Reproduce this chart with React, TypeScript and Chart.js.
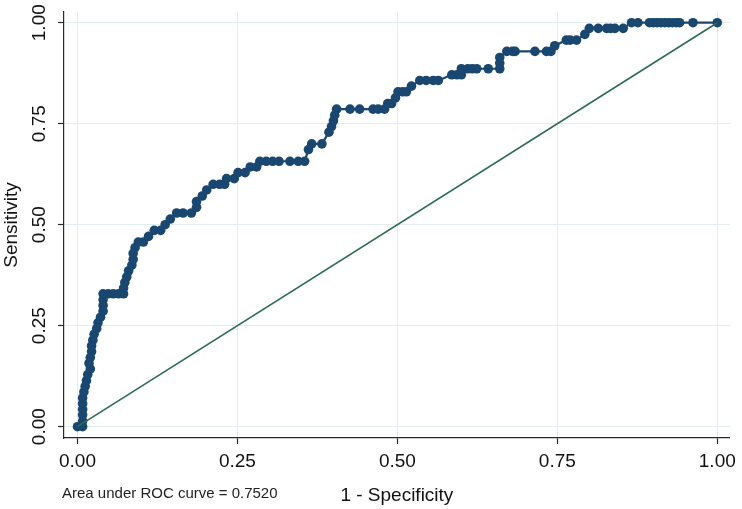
import React, { useEffect, useRef } from "react";
import { Chart, registerables } from "chart.js";

Chart.register(...registerables);

// ROC curve points (1 - specificity, sensitivity)
const fprValues = [
  0.000, 0.008, 0.008, 0.008, 0.008, 0.008, 0.008, 0.010, 0.012, 0.014,
  0.016, 0.020, 0.018, 0.020, 0.022, 0.022, 0.024, 0.026, 0.030, 0.032,
  0.036, 0.040, 0.040, 0.040, 0.040, 0.048, 0.056, 0.064, 0.072, 0.072,
  0.074, 0.077, 0.080, 0.085, 0.087, 0.087, 0.090, 0.095, 0.103, 0.111,
  0.120, 0.130, 0.137, 0.145, 0.155, 0.165, 0.178, 0.186, 0.186, 0.195,
  0.202, 0.212, 0.222, 0.230, 0.233, 0.245, 0.251, 0.262, 0.270, 0.280,
  0.285, 0.295, 0.305, 0.315, 0.332, 0.345, 0.355, 0.361, 0.366, 0.382,
  0.393, 0.397, 0.400, 0.402, 0.405, 0.426, 0.441, 0.462, 0.470, 0.480,
  0.485, 0.491, 0.497, 0.501, 0.508, 0.514, 0.522, 0.535, 0.545, 0.556,
  0.564, 0.585, 0.593, 0.600, 0.600, 0.610, 0.617, 0.624, 0.642, 0.660,
  0.660, 0.660, 0.671, 0.680, 0.684, 0.715, 0.733, 0.740, 0.746, 0.764,
  0.770, 0.780, 0.793, 0.800, 0.814, 0.827, 0.833, 0.840, 0.853, 0.866,
  0.876, 0.894, 0.900, 0.906, 0.912, 0.918, 0.924, 0.930, 0.936, 0.941,
  0.962, 1.000,
];
const tprValues = [
  0.000, 0.000, 0.014, 0.029, 0.043, 0.057, 0.071, 0.086, 0.100, 0.114,
  0.129, 0.143, 0.157, 0.171, 0.186, 0.200, 0.214, 0.229, 0.243, 0.257,
  0.271, 0.286, 0.300, 0.314, 0.329, 0.329, 0.329, 0.329, 0.329, 0.343,
  0.357, 0.371, 0.386, 0.400, 0.414, 0.429, 0.443, 0.457, 0.457, 0.471,
  0.486, 0.486, 0.500, 0.514, 0.529, 0.529, 0.529, 0.543, 0.557, 0.571,
  0.586, 0.600, 0.600, 0.600, 0.614, 0.614, 0.629, 0.629, 0.643, 0.643,
  0.657, 0.657, 0.657, 0.657, 0.657, 0.657, 0.657, 0.686, 0.700, 0.700,
  0.729, 0.743, 0.757, 0.771, 0.786, 0.786, 0.786, 0.786, 0.786, 0.786,
  0.800, 0.800, 0.814, 0.829, 0.829, 0.829, 0.843, 0.857, 0.857, 0.857,
  0.857, 0.871, 0.871, 0.871, 0.886, 0.886, 0.886, 0.886, 0.886, 0.886,
  0.900, 0.914, 0.929, 0.929, 0.929, 0.929, 0.929, 0.929, 0.943, 0.957,
  0.957, 0.957, 0.971, 0.986, 0.986, 0.986, 0.986, 0.986, 0.986, 1.000,
  1.000, 1.000, 1.000, 1.000, 1.000, 1.000, 1.000, 1.000, 1.000, 1.000,
  1.000, 1.000,
];

// Reference (chance) line
const diagonalX = [0, 1];
const diagonalY = [0, 1];

// Axis ticks and labels
const tickValues = [0, 0.25, 0.5, 0.75, 1];
const tickLabels = ["0.00", "0.25", "0.50", "0.75", "1.00"];
const xTitle = "1 - Specificity";
const yTitle = "Sensitivity";
const aucNote = "Area under ROC curve = 0.7520";

const FONT = "'Liberation Sans', Arial, sans-serif";
const NAVY = "#1a476f";
const GREEN = "#2c6b52";
const GRID = "#e3ecef";
const AXIS = "#2a2a2a";

export default function App() {
  const canvasRef = useRef<HTMLCanvasElement | null>(null);

  useEffect(() => {
    const canvas = canvasRef.current;
    if (!canvas) return;

    const rocData = fprValues.map((x, i) => ({ x, y: tprValues[i] }));
    const diagData = diagonalX.map((x, i) => ({ x, y: diagonalY[i] }));

    const notePlugin = {
      id: "aucNote",
      afterDraw(chart: any) {
        const ctx = chart.ctx;
        ctx.save();
        ctx.font = `15px ${FONT}`;
        ctx.fillStyle = "#222222";
        ctx.textAlign = "left";
        ctx.textBaseline = "middle";
        ctx.fillText(aucNote, 62, 494);
        ctx.restore();
      },
    };

    const setTicks = (scale: any) => {
      scale.ticks = tickValues.map((v) => ({ value: v }));
    };

    const chart = new Chart(canvas, {
      type: "scatter",
      data: {
        datasets: [
          {
            data: diagData,
            showLine: true,
            borderColor: GREEN,
            borderWidth: 1.6,
            pointRadius: 0,
            pointHoverRadius: 0,
          },
          {
            data: rocData,
            showLine: true,
            borderColor: NAVY,
            borderWidth: 2.2,
            backgroundColor: NAVY,
            pointBackgroundColor: NAVY,
            pointBorderColor: NAVY,
            pointBorderWidth: 0,
            pointRadius: 4.8,
          },
        ],
      },
      options: {
        animation: false,
        responsive: true,
        maintainAspectRatio: false,
        layout: { padding: { left: 0, right: 12, top: 12, bottom: 0 } },
        plugins: {
          legend: { display: false },
          tooltip: { enabled: false },
          title: { display: false },
        },
        scales: {
          x: {
            type: "linear",
            min: -0.0211,
            max: 1.0195,
            afterBuildTicks: setTicks,
            afterFit: (scale: any) => {
              scale.height = 71;
            },
            grid: {
              color: GRID,
              lineWidth: 1,
              tickLength: 6,
              tickColor: AXIS,
              tickWidth: 1.2,
            },
            border: { display: true, color: AXIS, width: 1.2 },
            ticks: {
              color: "#111111",
              font: { family: FONT, size: 19 },
              padding: 6,
              maxRotation: 0,
              minRotation: 0,
              callback: (v: any) => {
                const i = tickValues.indexOf(Number(v));
                return i >= 0 ? tickLabels[i] : "";
              },
            },
            title: {
              display: true,
              text: xTitle,
              color: "#111111",
              font: { family: FONT, size: 19 },
              padding: { top: 0, bottom: 2 },
            },
          },
          y: {
            type: "linear",
            min: -0.028,
            max: 1.0265,
            afterBuildTicks: setTicks,
            afterFit: (scale: any) => {
              scale.width = 64;
            },
            grid: {
              color: GRID,
              lineWidth: 1,
              tickLength: 6,
              tickColor: AXIS,
              tickWidth: 1.2,
            },
            border: { display: true, color: AXIS, width: 1.2 },
            ticks: {
              color: "#111111",
              font: { family: FONT, size: 19 },
              padding: 0,
              minRotation: 90,
              maxRotation: 90,
              crossAlign: "center",
              callback: (v: any) => {
                const i = tickValues.indexOf(Number(v));
                return i >= 0 ? tickLabels[i] : "";
              },
            },
            title: {
              display: true,
              text: yTitle,
              color: "#111111",
              font: { family: FONT, size: 19 },
              padding: { top: 0, bottom: 0 },
            },
          },
        },
      },
      plugins: [notePlugin],
    });

    return () => {
      chart.destroy();
    };
  }, []);

  return (
    <div
      style={{
        position: "absolute",
        left: 0,
        top: 0,
        width: 742,
        height: 509,
        background: "#ffffff",
      }}
    >
      <canvas ref={canvasRef} />
    </div>
  );
}
